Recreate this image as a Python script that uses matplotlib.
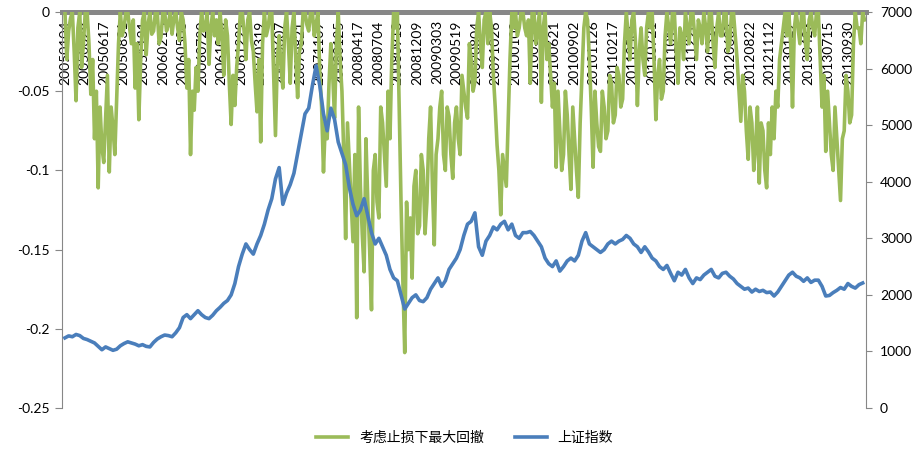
import numpy as np
import matplotlib
matplotlib.use("Agg")
import matplotlib.pyplot as plt

plt.rcParams['font.family'] = ['Lato', 'Noto Sans CJK SC', 'DejaVu Sans']

# category labels along the date axis (one every 53 trading days)
DATE_LABELS = ["20050104", "20050329", "20050617", "20050831", "20051121", "20060215",
               "20060508", "20060720", "20061010", "20061222", "20070319", "20070607",
               "20070821", "20071109", "20080125", "20080417", "20080704", "20080918",
               "20081209", "20090303", "20090519", "20090804", "20091026", "20100108",
               "20100331", "20100621", "20100902", "20101126", "20110217", "20110506",
               "20110721", "20111012", "20111226", "20120319", "20120607", "20120822",
               "20121112", "20130129", "20130423", "20130715", "20130930"]
LABEL_STEP = 53
N_DAYS = 2170

# max drawdown with stop loss, one value every 5 trading days
GREEN_STEP = 5
drawdown = [
    0, -0.03, -0.012, -0.004, 0, -0.025, -0.056, -0.01, 0, -0.035,
    -0.02, 0, 0, -0.02, -0.052, -0.03, -0.08, -0.05, -0.111, -0.06,
    -0.085, -0.095, -0.067, -0.04, -0.101, -0.06, -0.073, -0.09, -0.054, -0.02,
    0, -0.015, -0.01, 0, 0, -0.01, -0.02, -0.005, -0.048, -0.02,
    -0.068, -0.03, -0.005, 0, -0.027, -0.008, 0, -0.014, -0.012, 0,
    0, -0.02, -0.016, 0, 0, -0.012, -0.008, 0, -0.014, -0.004,
    0, -0.01, -0.018, 0, -0.005, -0.02, -0.048, -0.03, -0.09, -0.05,
    -0.062, -0.035, -0.05, -0.015, 0, -0.012, -0.01, 0, -0.033, -0.01,
    0, -0.015, -0.005, -0.02, 0, -0.015, -0.04, -0.005, -0.015, -0.045,
    -0.071, -0.04, -0.059, -0.035, -0.02, 0, 0, -0.012, -0.03, -0.005,
    0, -0.018, -0.025, -0.045, -0.063, -0.03, -0.082, -0.02, 0, -0.015,
    -0.01, 0, 0, -0.04, -0.078, -0.03, -0.015, -0.035, -0.048, -0.01,
    0, -0.02, -0.045, -0.01, 0, -0.03, -0.054, -0.025, -0.02, 0,
    0, -0.008, -0.012, 0, 0, -0.015, -0.008, 0, -0.038, -0.06,
    -0.101, -0.07, -0.08, -0.045, -0.02, -0.04, -0.067, -0.02, 0, -0.03,
    -0.05, -0.09, -0.143, -0.07, -0.095, -0.12, -0.145, -0.09, -0.193, -0.06,
    -0.11, -0.14, -0.164, -0.08, -0.12, -0.15, -0.188, -0.1, -0.09, -0.12,
    -0.13, -0.06, -0.07, -0.09, -0.11, -0.05, -0.08, -0.03, 0, -0.01,
    0, -0.06, -0.12, -0.17, -0.215, -0.12, -0.15, -0.13, -0.168, -0.11,
    -0.1, -0.14, -0.135, -0.09, -0.1, -0.14, -0.12, -0.08, -0.06, -0.11,
    -0.147, -0.09, -0.08, -0.06, -0.05, -0.09, -0.1, -0.06, -0.066, -0.09,
    -0.105, -0.07, -0.06, -0.08, -0.09, -0.04, -0.05, -0.06, -0.067, -0.02,
    -0.03, -0.05, -0.044, -0.01, 0, -0.02, -0.035, -0.005, 0, -0.02,
    0, -0.01, -0.04, -0.06, -0.084, -0.1, -0.128, -0.09, -0.1, -0.11,
    -0.07, -0.03, 0, -0.01, 0, -0.015, -0.01, 0, 0, -0.01,
    -0.015, -0.005, -0.045, 0, 0, -0.02, -0.01, 0, -0.057, -0.01,
    0, -0.03, -0.02, -0.04, -0.06, -0.045, -0.098, -0.05, -0.075, -0.1,
    -0.09, -0.05, -0.065, -0.09, -0.112, -0.06, -0.08, -0.1, -0.117, -0.07,
    -0.04, -0.01, 0, -0.005, -0.03, -0.06, -0.098, -0.05, -0.07, -0.085,
    -0.088, -0.05, -0.06, -0.08, -0.075, -0.04, -0.045, -0.07, -0.065, -0.035,
    -0.04, -0.06, -0.055, -0.02, 0, -0.015, -0.03, -0.005, 0, -0.02,
    -0.059, -0.025, -0.01, -0.03, -0.04, -0.01, 0, -0.01, 0, -0.03,
    -0.068, -0.04, -0.03, -0.055, -0.05, -0.015, 0, -0.01, -0.02, 0,
    0, -0.025, -0.045, -0.01, -0.015, -0.03, 0, -0.01, -0.02, 0,
    0, -0.015, -0.03, -0.005, -0.01, -0.02, 0, -0.01, -0.025, 0,
    0, -0.02, -0.035, -0.01, 0, -0.015, -0.015, 0, 0, -0.025,
    -0.02, 0, 0, -0.015, -0.03, -0.05, -0.069, -0.04, -0.05, -0.075,
    -0.093, -0.06, -0.07, -0.1, -0.085, -0.06, -0.108, -0.07, -0.075, -0.1,
    -0.111, -0.07, -0.09, -0.06, -0.08, -0.05, -0.06, -0.03, -0.02, -0.01,
    0, -0.015, 0, -0.02, -0.06, -0.01, 0, -0.01, -0.02, 0,
    0, -0.02, -0.03, -0.005, 0, -0.01, -0.015, 0, 0, -0.03,
    -0.06, -0.04, -0.088, -0.05, -0.07, -0.09, -0.1, -0.06, -0.08, -0.1,
    -0.119, -0.08, -0.075, -0.04, -0.05, -0.07, -0.065, -0.02, 0, -0.01,
    -0.01, -0.02, 0, -0.005,
]

# Shanghai composite close, one value every 10 trading days
BLUE_STEP = 10
sh_index = [
    1240, 1275, 1260, 1300, 1280, 1230, 1210, 1180, 1150, 1090,
    1030, 1080, 1050, 1020, 1040, 1100, 1140, 1170, 1150, 1130,
    1100, 1120, 1090, 1080, 1160, 1220, 1260, 1290, 1280, 1260,
    1330, 1420, 1600, 1650, 1580, 1650, 1720, 1650, 1600, 1580,
    1640, 1720, 1780, 1850, 1900, 2000, 2200, 2500, 2720, 2900,
    2800, 2720, 2900, 3050, 3250, 3500, 3700, 4050, 4250, 3600,
    3800, 3950, 4150, 4500, 4850, 5200, 5300, 5700, 6050, 5700,
    5200, 4900, 5300, 5100, 4700, 4500, 4300, 3900, 3600, 3400,
    3500, 3700, 3400, 3100, 2900, 3000, 2850, 2700, 2450, 2300,
    2250, 2000, 1750, 1850, 1950, 2000, 1900, 1880, 1950, 2100,
    2200, 2300, 2150, 2250, 2450, 2550, 2650, 2800, 3050, 3250,
    3300, 3450, 2850, 2700, 2950, 3050, 3200, 3150, 3250, 3300,
    3150, 3250, 3050, 3000, 3100, 3100, 3120, 3050, 2950, 2850,
    2650, 2550, 2500, 2600, 2420, 2500, 2600, 2650, 2600, 2700,
    2950, 3100, 2900, 2850, 2800, 2750, 2800, 2900, 2950, 2900,
    2950, 2980, 3050, 3000, 2900, 2850, 2750, 2850, 2760, 2650,
    2600, 2500, 2450, 2520, 2380, 2250, 2400, 2350, 2450, 2300,
    2200, 2300, 2270, 2350, 2400, 2450, 2330, 2300, 2380, 2400,
    2330, 2280, 2200, 2150, 2100, 2120, 2050, 2100, 2060, 2080,
    2040, 2050, 1980, 2050, 2150, 2250, 2350, 2400, 2330, 2300,
    2240, 2300, 2220, 2260, 2260, 2150, 1980, 1990, 2040, 2080,
    2130, 2100, 2200, 2150, 2120, 2180, 2210,
]

fig = plt.figure(figsize=(9.2, 4.53), dpi=100)
ax = fig.add_axes([0.0674, 0.0993, 0.8739, 0.8742])

x_green = np.arange(len(drawdown)) * GREEN_STEP
x_blue = np.arange(len(sh_index)) * BLUE_STEP

l1, = ax.plot(x_green, drawdown, color='#9BBB59', lw=2.6, zorder=3, label='考虑止损下最大回撤')
ax.set_xlim(-8, N_DAYS - 1)
ax.set_ylim(-0.25, 0)
ax.set_yticks([0, -0.05, -0.1, -0.15, -0.2, -0.25])
ax.set_yticklabels(["0", "-0.05", "-0.1", "-0.15", "-0.2", "-0.25"])

# the category axis crosses at 0, so its labels hang down from the top
ax.spines['bottom'].set_position(('data', 0))
ax.spines['bottom'].set_color('#878787')
ax.spines['bottom'].set_linewidth(3.6)
ax.spines['top'].set_visible(False)
ax.spines['right'].set_visible(False)
ax.spines['left'].set_color('#878787')
ax.set_xticks(np.arange(len(DATE_LABELS)) * LABEL_STEP)
ax.set_xticklabels(DATE_LABELS, rotation=90)
ax.tick_params(axis='x', length=0, pad=6, labelsize=10)
ax.tick_params(axis='y', length=5, color='#878787', labelsize=10, pad=4)

ax2 = ax.twinx()
l2, = ax2.plot(x_blue, sh_index, color='#4A7EBB', lw=2.6, label='上证指数')
ax2.set_ylim(0, 7000)
ax2.set_yticks(range(0, 7001, 1000))
for s in ['top', 'bottom', 'left']:
    ax2.spines[s].set_visible(False)
ax2.spines['right'].set_color('#878787')
ax2.tick_params(axis='y', length=4, color='#878787', labelsize=10, pad=6)

fig.legend(handles=[l1, l2], loc='center', bbox_to_anchor=(0.505, 0.033), ncol=2,
           frameon=False, handlelength=2.3, columnspacing=2.2,
           prop={'family': ['Noto Sans CJK SC', 'DejaVu Sans'], 'size': 10})

fig.savefig('out.png', dpi=100)
